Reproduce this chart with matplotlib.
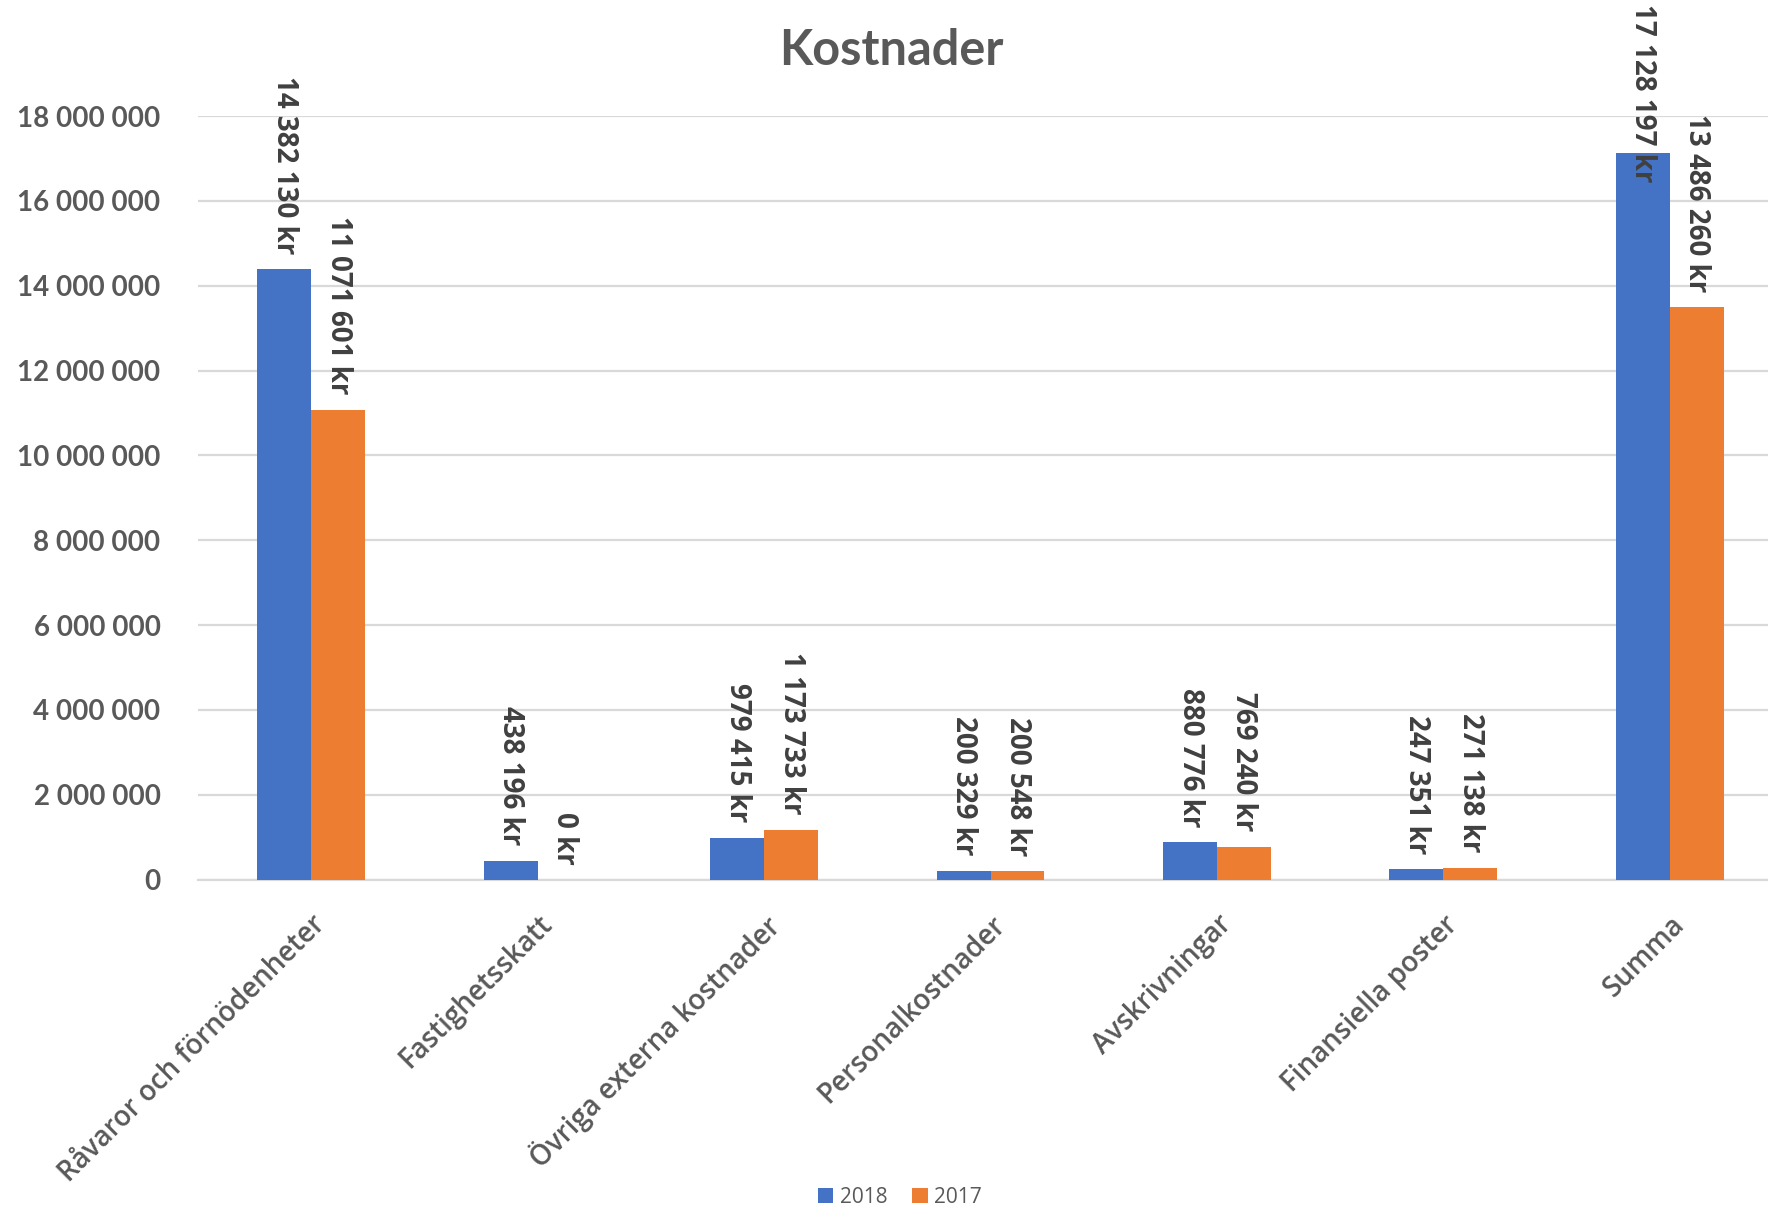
import matplotlib
matplotlib.use("Agg")
import matplotlib.pyplot as plt
import numpy as np

categories = [
    "Råvaror och förnödenheter",
    "Fastighetsskatt",
    "Övriga externa kostnader",
    "Personalkostnader",
    "Avskrivningar",
    "Finansiella poster",
    "Summa",
]
series_names = ["2018", "2017"]
values_2018 = [14382130, 438196, 979415, 200329, 880776, 247351, 17128197]
values_2017 = [11071601, 0, 1173733, 200548, 769240, 271138, 13486260]
y_ticks = [0, 2000000, 4000000, 6000000, 8000000, 10000000, 12000000,
           14000000, 16000000, 18000000]

colors = ["#4472C4", "#ED7D31"]
grid_color = "#D9D9D9"
label_gray = "#595959"
value_gray = "#404040"


def fmt_thousands(v):
    return f"{int(v):,}".replace(",", " ")


fig = plt.figure(figsize=(17.68, 12.06), dpi=100)
ax = fig.add_axes([0.112, 0.2707, 0.8965, 0.6331])

x = np.arange(len(categories))
bar_w = 0.238
series = [values_2018, values_2017]
value_labels = []
for i, (vals, name) in enumerate(zip(series, series_names)):
    offs = (i - 0.5) * bar_w
    ax.bar(x + offs, vals, width=bar_w, color=colors[i], label=name, zorder=3)
    for xi, v in zip(x + offs, vals):
        t = ax.annotate(fmt_thousands(v) + " kr", (xi, v), xytext=(0, 11),
                        textcoords="offset points", rotation=-90,
                        ha="center", va="bottom", fontsize=20,
                        fontweight="bold", color=value_gray,
                        family=["Open Sans", "DejaVu Sans"],
                        annotation_clip=False, zorder=4)
        value_labels.append(t)

ax.set_xlim(-0.5, len(categories) - 0.5)
ax.set_ylim(0, 18000000)
ax.set_yticks(y_ticks)
ax.set_yticklabels([fmt_thousands(t) for t in y_ticks])
ax.yaxis.grid(True, color=grid_color, linewidth=1.6, zorder=0)
ax.set_axisbelow(True)
for s in ["top", "right", "left"]:
    ax.spines[s].set_visible(False)
ax.spines["bottom"].set_color(grid_color)
ax.spines["bottom"].set_linewidth(1.6)
ax.tick_params(axis="y", length=0, pad=27, labelsize=20, labelcolor=label_gray)
for t in ax.get_yticklabels():
    t.set_fontweight("bold")
    t.set_family("Lato")

ax.set_xticks(x)
ax.set_xticklabels(categories, rotation=45, ha="right",
                   rotation_mode="anchor", fontsize=20, color=label_gray,
                   fontweight="semibold", family="Open Sans")
ax.tick_params(axis="x", length=0, pad=22)
for t in ax.get_xticklabels():
    t.set_x(t.get_position()[0])

fig.text(0.504, 0.958, "Kostnader", ha="center", va="center", fontsize=35,
         fontweight="bold", color=label_gray, family="Lato")

leg = fig.legend(loc="center", bbox_to_anchor=(0.509, 0.007), ncol=2,
                 frameon=False, handlelength=0.75,
                 handleheight=0.75, handletextpad=0.3, columnspacing=1.2,
                 prop={"family": "Open Sans", "size": 15})
for t in leg.get_texts():
    t.set_color(label_gray)

# Labels that would run past the top edge are pulled down to fit inside.
fig.canvas.draw()
renderer = fig.canvas.get_renderer()
fig_h = fig.bbox.height
for t in value_labels:
    bb = t.get_window_extent(renderer)
    if bb.y1 > fig_h - 4:
        shift_px = bb.y1 - (fig_h - 4)
        ox, oy = t.xyann
        t.xyann = (ox, oy - shift_px * 72.0 / fig.dpi)

fig.savefig("out.png", dpi=100)
